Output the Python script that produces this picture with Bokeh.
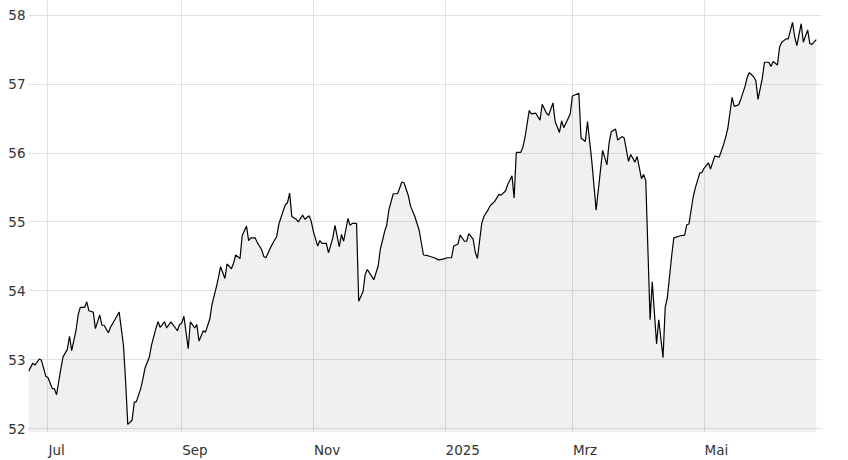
import pandas as pd
from bokeh.plotting import figure
from bokeh.models import Range1d, FixedTicker
from bokeh.embed import file_html
from bokeh.resources import INLINE

dates = [
    "2024-06-22", "2024-06-24", "2024-06-25", "2024-06-27", "2024-06-28", "2024-06-30",
    "2024-07-01", "2024-07-03", "2024-07-04", "2024-07-05", "2024-07-07", "2024-07-08",
    "2024-07-10", "2024-07-11", "2024-07-12", "2024-07-14", "2024-07-15", "2024-07-16",
    "2024-07-18", "2024-07-19", "2024-07-20", "2024-07-22", "2024-07-23", "2024-07-25",
    "2024-07-26", "2024-07-27", "2024-07-29", "2024-07-30", "2024-08-01", "2024-08-03",
    "2024-08-05", "2024-08-06", "2024-08-07", "2024-08-09", "2024-08-10", "2024-08-11",
    "2024-08-13", "2024-08-14", "2024-08-15", "2024-08-17", "2024-08-18", "2024-08-20",
    "2024-08-21", "2024-08-22", "2024-08-24", "2024-08-25", "2024-08-27", "2024-08-30",
    "2024-08-31", "2024-09-01", "2024-09-02", "2024-09-04", "2024-09-05", "2024-09-07",
    "2024-09-08", "2024-09-09", "2024-09-11", "2024-09-12", "2024-09-14", "2024-09-15",
    "2024-09-17", "2024-09-18", "2024-09-19", "2024-09-21", "2024-09-22", "2024-09-24",
    "2024-09-25", "2024-09-26", "2024-09-28", "2024-09-29", "2024-10-01", "2024-10-02",
    "2024-10-03", "2024-10-05", "2024-10-06", "2024-10-08", "2024-10-09", "2024-10-10",
    "2024-10-12", "2024-10-13", "2024-10-15", "2024-10-16", "2024-10-18", "2024-10-19",
    "2024-10-20", "2024-10-21", "2024-10-22", "2024-10-24", "2024-10-25", "2024-10-27",
    "2024-10-28", "2024-10-30", "2024-10-31", "2024-11-01", "2024-11-03", "2024-11-04",
    "2024-11-05", "2024-11-07", "2024-11-08", "2024-11-10", "2024-11-11", "2024-11-13",
    "2024-11-14", "2024-11-15", "2024-11-17", "2024-11-18", "2024-11-19", "2024-11-21",
    "2024-11-22", "2024-11-24", "2024-11-25", "2024-11-26", "2024-11-28", "2024-11-29",
    "2024-12-01", "2024-12-02", "2024-12-04", "2024-12-05", "2024-12-06", "2024-12-08",
    "2024-12-10", "2024-12-12", "2024-12-13", "2024-12-15", "2024-12-16", "2024-12-18",
    "2024-12-20", "2024-12-22", "2024-12-24", "2024-12-27", "2024-12-29", "2024-12-31",
    "2025-01-02", "2025-01-04", "2025-01-05", "2025-01-07", "2025-01-08", "2025-01-10",
    "2025-01-11", "2025-01-12", "2025-01-14", "2025-01-15", "2025-01-16", "2025-01-18",
    "2025-01-19", "2025-01-21", "2025-01-22", "2025-01-24", "2025-01-26", "2025-01-27",
    "2025-01-29", "2025-01-30", "2025-02-01", "2025-02-02", "2025-02-03", "2025-02-05",
    "2025-02-06", "2025-02-07", "2025-02-09", "2025-02-10", "2025-02-12", "2025-02-14",
    "2025-02-15", "2025-02-17", "2025-02-18", "2025-02-20", "2025-02-21", "2025-02-23",
    "2025-02-24", "2025-02-25", "2025-02-28", "2025-03-01", "2025-03-04", "2025-03-05",
    "2025-03-07", "2025-03-08", "2025-03-10", "2025-03-12", "2025-03-15", "2025-03-17",
    "2025-03-18", "2025-03-19", "2025-03-21", "2025-03-22", "2025-03-24", "2025-03-25",
    "2025-03-27", "2025-03-28", "2025-03-30", "2025-03-31", "2025-04-02", "2025-04-03",
    "2025-04-04", "2025-04-06", "2025-04-07", "2025-04-09", "2025-04-10", "2025-04-12",
    "2025-04-13", "2025-04-14", "2025-04-16", "2025-04-17", "2025-04-20", "2025-04-22",
    "2025-04-23", "2025-04-24", "2025-04-26", "2025-04-27", "2025-04-29", "2025-04-30",
    "2025-05-01", "2025-05-03", "2025-05-04", "2025-05-06", "2025-05-07", "2025-05-08",
    "2025-05-10", "2025-05-11", "2025-05-12", "2025-05-14", "2025-05-15", "2025-05-17",
    "2025-05-18", "2025-05-20", "2025-05-21", "2025-05-22", "2025-05-24", "2025-05-25",
    "2025-05-26", "2025-05-28", "2025-05-29", "2025-05-31", "2025-06-01", "2025-06-02",
    "2025-06-04", "2025-06-05", "2025-06-06", "2025-06-08", "2025-06-09", "2025-06-11",
    "2025-06-12", "2025-06-13", "2025-06-15", "2025-06-16", "2025-06-18", "2025-06-19",
    "2025-06-20", "2025-06-22",
]

values = [
    52.83, 52.95, 52.92, 53.01, 52.99, 52.76,
    52.74, 52.58, 52.58, 52.49, 52.87, 53.04,
    53.15, 53.34, 53.13, 53.42, 53.65, 53.76,
    53.76, 53.84, 53.71, 53.69, 53.45, 53.65,
    53.50, 53.50, 53.39, 53.47, 53.58, 53.69,
    53.21, 52.68, 52.06, 52.12, 52.38, 52.39,
    52.58, 52.72, 52.88, 53.04, 53.21, 53.45,
    53.55, 53.47, 53.55, 53.46, 53.55, 53.42,
    53.51, 53.53, 53.63, 53.16, 53.55, 53.46,
    53.51, 53.27, 53.42, 53.40, 53.59, 53.80,
    54.05, 54.19, 54.35, 54.18, 54.39, 54.32,
    54.40, 54.52, 54.47, 54.80, 54.94, 54.73,
    54.77, 54.77, 54.70, 54.60, 54.50, 54.48,
    54.62, 54.68, 54.79, 54.97, 55.16, 55.25,
    55.28, 55.42, 55.08, 55.04, 55.00, 55.10,
    55.04, 55.09, 55.01, 54.86, 54.65, 54.73,
    54.69, 54.69, 54.55, 54.77, 54.95, 54.64,
    54.82, 54.72, 55.05, 54.95, 54.98, 54.98,
    53.85, 53.99, 54.24, 54.31, 54.21, 54.16,
    54.36, 54.60, 54.86, 54.96, 55.18, 55.41,
    55.41, 55.58, 55.57, 55.38, 55.23, 55.08,
    54.88, 54.52, 54.51, 54.48, 54.45, 54.46,
    54.48, 54.48, 54.65, 54.68, 54.81, 54.72,
    54.72, 54.83, 54.75, 54.56, 54.47, 54.98,
    55.08, 55.18, 55.24, 55.30, 55.40, 55.39,
    55.45, 55.54, 55.67, 55.35, 56.01, 56.01,
    56.08, 56.22, 56.62, 56.57, 56.58, 56.48,
    56.71, 56.58, 56.55, 56.73, 56.46, 56.30,
    56.47, 56.37, 56.57, 56.83, 56.87, 56.22,
    56.17, 56.46, 55.88, 55.17, 56.04, 55.83,
    56.15, 56.31, 56.35, 56.19, 56.24, 56.22,
    55.88, 55.98, 55.87, 55.95, 55.63, 55.69,
    55.60, 53.58, 54.13, 53.23, 53.58, 53.03,
    53.76, 53.90, 54.51, 54.77, 54.80, 54.81,
    54.96, 54.97, 55.37, 55.50, 55.71, 55.72,
    55.78, 55.86, 55.77, 55.96, 55.95, 55.94,
    56.12, 56.23, 56.36, 56.81, 56.68, 56.70,
    56.78, 56.97, 57.10, 57.17, 57.11, 57.05,
    56.78, 57.09, 57.32, 57.32, 57.26, 57.33,
    57.28, 57.54, 57.61, 57.66, 57.66, 57.90,
    57.69, 57.56, 57.88, 57.61, 57.79, 57.59,
    57.58, 57.65,
]

month_ticks = ["2024-07-01", "2024-09-01", "2024-11-01", "2025-01-01", "2025-03-01", "2025-05-01"]
month_labels = ["Jul", "Sep", "Nov", "2025", "Mrz", "Mai"]
y_ticks = [52, 53, 54, 55, 56, 57, 58]

# ---- layout / style ----
W, H = 848, 460
B_LEFT, B_RIGHT, B_TOP, B_BOTTOM = 28, 27, 0, 26
FONT = "DejaVu Sans"
FONT_PX = 13.5
TEXT_COLOR = "#333333"
GRID_COLOR = "#e0e0e0"

x = pd.to_datetime(dates)
x_start = x[0]
x_end = pd.Timestamp("2025-06-24 10:00")
y_start, y_end = 51.942, 58.217

def to_ms(ts):
    return int(pd.Timestamp(ts).value // 10**6)

start_ms, end_ms = to_ms(x_start), to_ms(x_end)
frame_w = W - B_LEFT - B_RIGHT
px_per_ms = frame_w / (end_ms - start_ms)

# DejaVu Sans advance widths (em) to left-align month labels at their tick
ADV = {"J": .295, "u": .634, "l": .278, "S": .635, "e": .615, "p": .635, "N": .748,
       "o": .612, "v": .592, "M": .863, "r": .411, "z": .525, "a": .613, "i": .278}
def text_w(s):
    return sum(ADV.get(c, .636) for c in s) * FONT_PX

grid_ms = [to_ms(t) for t in month_ticks]
label_ms = [int(round(g + (text_w(lbl) / 2 + 0.5) / px_per_ms)) for g, lbl in zip(grid_ms, month_labels)]

p = figure(width=W, height=H, x_axis_type="datetime",
           x_range=Range1d(x_start, x_end), y_range=Range1d(y_start, y_end),
           output_backend="svg", toolbar_location=None,
           min_border_left=B_LEFT, min_border_right=B_RIGHT,
           min_border_top=B_TOP, min_border_bottom=B_BOTTOM)
p.outline_line_color = None
p.background_fill_color = "white"
p.border_fill_color = "white"

p.varea(x=x, y1=y_start, y2=values, fill_color="#808080", fill_alpha=0.118)
p.line(x, values, line_color="black", line_width=1.2)

# x axis: labels left-aligned at month gridlines
xa = p.xaxis[0]
xa.ticker = FixedTicker(ticks=label_ms)
xa.major_label_overrides = {m: lbl for m, lbl in zip(label_ms, month_labels)}
xa.axis_line_color = None
xa.major_tick_line_color = None
xa.minor_tick_line_color = None
xa.major_tick_out = 0
xa.major_tick_in = 0
xa.major_label_standoff = 9
xa.major_label_text_font = FONT
xa.major_label_text_font_size = f"{FONT_PX}px"
xa.major_label_text_color = TEXT_COLOR

ya = p.yaxis[0]
ya.ticker = FixedTicker(ticks=y_ticks)
ya.axis_line_color = None
ya.major_tick_line_color = None
ya.minor_tick_line_color = None
ya.major_tick_out = 0
ya.major_tick_in = 0
ya.major_label_standoff = 3
ya.major_label_text_font = FONT
ya.major_label_text_font_size = f"{FONT_PX}px"
ya.major_label_text_color = TEXT_COLOR

p.xgrid.ticker = FixedTicker(ticks=grid_ms)
p.ygrid.ticker = FixedTicker(ticks=y_ticks)
p.xgrid.grid_line_color = GRID_COLOR
p.ygrid.grid_line_color = GRID_COLOR
p.xgrid.grid_line_width = 1
p.ygrid.grid_line_width = 1

open("out.html", "w").write(file_html(p, INLINE))
